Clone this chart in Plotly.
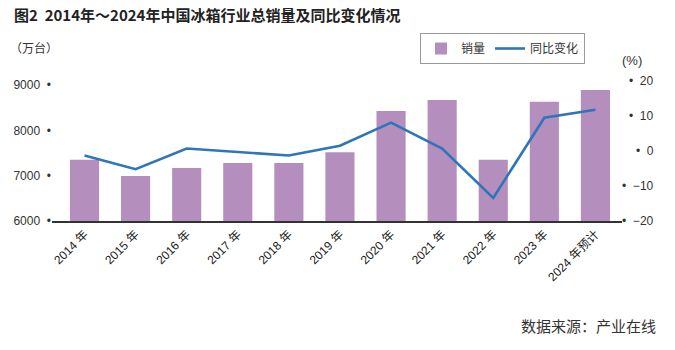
import plotly.graph_objects as go

years = ["2014 年", "2015 年", "2016 年", "2017 年", "2018 年", "2019 年",
         "2020 年", "2021 年", "2022 年", "2023 年", "2024 年预计"]
sales = [7350, 6995, 7170, 7280, 7280, 7520, 8430, 8670, 7350, 8630, 8890]
yoy = [-1.3, -5.2, 0.7, -0.4, -1.3, 1.5, 8.1, 0.7, -13.4, 9.5, 11.8]
left_ticks = [6000, 7000, 8000, 9000]
right_ticks = [-20, -10, 0, 10, 20]

FONT = "Liberation Sans, Arial, Noto Sans CJK SC, sans-serif"
CJK = "Noto Sans CJK SC, sans-serif"

fig = go.Figure()
fig.add_trace(go.Bar(x=list(range(len(years))), y=sales, name="销量",
                     marker=dict(color="#B48EBD", line=dict(width=0)),
                     width=0.57, yaxis="y"))
fig.add_trace(go.Scatter(x=list(range(len(years))), y=yoy, name="同比变化",
                         mode="lines", line=dict(color="#2E75B9", width=2.6),
                         yaxis="y2"))

fig.update_layout(
    width=675, height=350,
    margin=dict(l=52, r=53, t=81, b=129),
    paper_bgcolor="white", plot_bgcolor="white",
    font=dict(family=FONT, size=12, color="#333"),
    showlegend=True,
    legend=dict(orientation="h", x=(585 - 52) / 570, xanchor="right",
                y=1 + 48/140, yanchor="top",
                bordercolor="#999", borderwidth=1, bgcolor="white",
                font=dict(family=CJK, size=12, color="#333"),
                itemwidth=30, tracegroupgap=0),
    xaxis=dict(tickmode="array", tickvals=list(range(len(years))), ticktext=years,
               range=[-0.636, 10.52], tickangle=-45, showgrid=False,
               showline=True, linecolor="#333", linewidth=1.5, ticks="",
               tickfont=dict(family=FONT, size=12, color="#222"), zeroline=False),
    yaxis=dict(range=[6000, 9090], tickmode="array", tickvals=left_ticks,
               ticktext=[f"{v}  •" for v in left_ticks], showgrid=False,
               showline=False, zeroline=False, ticks="",
               tickfont=dict(family=FONT, size=12, color="#333")),
    yaxis2=dict(range=[-20, 20], overlaying="y", side="right", showgrid=False,
                showline=False, zeroline=False, showticklabels=False, ticks=""),
)

for v in right_ticks:
    label = f"•  {v}" if v >= 0 else f"•  −{abs(v)}"
    fig.add_annotation(x=(656 - 52) / 570, xref="paper", y=v, yref="y2",
                       text=label, showarrow=False, xanchor="right", yanchor="middle",
                       font=dict(family=FONT, size=12, color="#333"))

fig.add_annotation(x=-40/570, xref="paper", y=1 + (81-15)/140, yref="paper",
                   text="<b>图2  2014年～2024年中国冰箱行业总销量及同比变化情况</b>",
                   showarrow=False, xanchor="left", yanchor="middle",
                   font=dict(family=CJK, size=15, color="#222"))
fig.add_annotation(x=(34-52)/570, xref="paper", y=1 + (81-47)/140, yref="paper",
                   text="（万台）", showarrow=False, xanchor="center", yanchor="middle",
                   font=dict(family=CJK, size=12, color="#333"))
fig.add_annotation(x=(632-52)/570, xref="paper", y=1 + (81-60)/140, yref="paper",
                   text="(%)", showarrow=False, xanchor="center", yanchor="middle",
                   font=dict(family=FONT, size=13, color="#333"))
fig.add_annotation(x=(658-52)/570, xref="paper", y=-(325-221)/140, yref="paper",
                   text="数据来源：产业在线", showarrow=False, xanchor="right", yanchor="middle",
                   font=dict(family=CJK, size=15, color="#333"))

fig.write_html("out.html")
